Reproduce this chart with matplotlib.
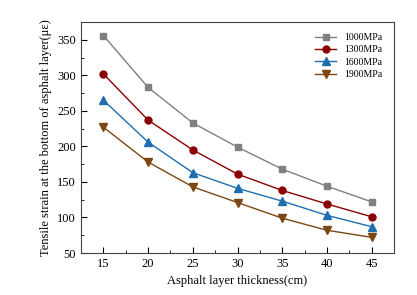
import matplotlib.pyplot as plt
from matplotlib.ticker import MultipleLocator

plt.rcParams['font.family'] = ['Liberation Serif', 'DejaVu Serif']

# Data
thickness = [15, 20, 25, 30, 35, 40, 45]
e1000 = [356, 283, 233, 199, 168, 144, 122]
e1300 = [302, 237, 195, 161, 138, 119, 101]
e1600 = [265, 206, 163, 141, 123, 103, 87]
e1900 = [227, 178, 143, 121, 99, 82, 72]
labels = ['1000MPa', '1300MPa', '1600MPa', '1900MPa']

fig = plt.figure(figsize=(4.17, 2.95), dpi=100)
ax = fig.add_axes([81 / 417, 1 - 253 / 295, 313 / 417, 231 / 295])

ax.plot(thickness, e1000, '-s', color='#808080', ms=4.5, lw=1, label=labels[0])
ax.plot(thickness, e1300, '-o', color='#8b0000', ms=5, lw=1, label=labels[1])
ax.plot(thickness, e1600, '-^', color='#1f6fb0', ms=5.5, lw=1, label=labels[2])
ax.plot(thickness, e1900, '-v', color='#7d4714', ms=5.5, lw=1, label=labels[3])

ax.set_xlim(12.5, 47.5)
ax.set_ylim(50, 375)
ax.xaxis.set_major_locator(MultipleLocator(5))
ax.xaxis.set_minor_locator(MultipleLocator(2.5))
ax.yaxis.set_major_locator(MultipleLocator(50))
ax.yaxis.set_minor_locator(MultipleLocator(25))
ax.tick_params(which='both', direction='in', top=False, right=False, labelsize=9)
ax.tick_params(which='major', length=4)
ax.tick_params(which='minor', length=2)
for s in ax.spines.values():
    s.set_color('#444444')

ax.set_xlabel('Asphalt layer thickness(cm)', fontsize=9)
ax.set_ylabel('Tensile strain at the bottom of asphalt layer(με)', fontsize=9)

ax.legend(loc='upper right', frameon=False, fontsize=7, handlelength=2.2,
          labelspacing=0.35, bbox_to_anchor=(0.99, 0.99))

fig.savefig('out.png', dpi=100)
